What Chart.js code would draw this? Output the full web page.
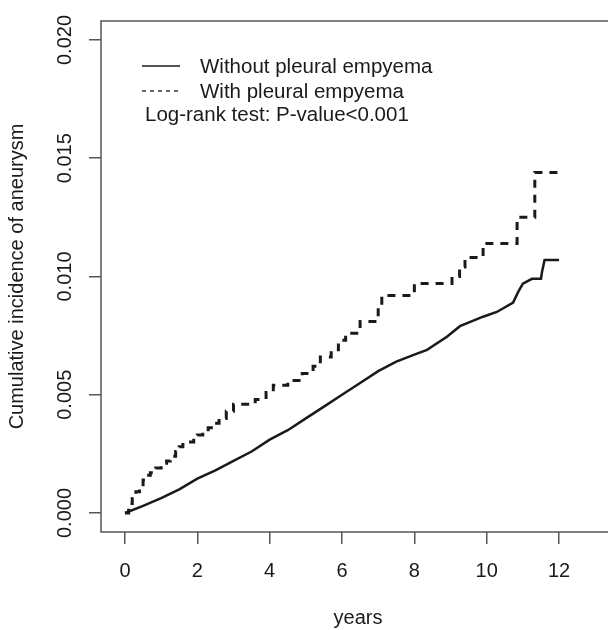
<!DOCTYPE html>
<html>
<head>
<meta charset="utf-8">
<script src="https://cdn.jsdelivr.net/npm/chart.js@4.4.1/dist/chart.umd.min.js"></script>
<style>
  html, body { margin: 0; padding: 0; background: #fff; overflow: hidden; }
</style>
</head>
<body>
<canvas id="km" width="620" height="630"></canvas>
<script>
// cumulative incidence
const withoutYears = [0, 0.5, 1, 1.5, 2, 2.5, 3, 3.5, 4, 4.5, 5, 5.5, 6, 6.5, 7, 7.5, 8, 8.35, 8.9, 9.26, 9.9, 10.28, 10.73, 10.87, 11.0, 11.25, 11.5, 11.53, 11.6, 12];
const withoutIncidence = [0, 0.0003, 0.00063, 0.001, 0.00145, 0.0018, 0.0022, 0.0026, 0.0031, 0.0035, 0.004, 0.0045, 0.005, 0.0055, 0.006, 0.0064, 0.0067, 0.0069, 0.00745, 0.0079, 0.0083, 0.0085, 0.0089, 0.00935, 0.0097, 0.0099, 0.0099, 0.0102, 0.0107, 0.0107];

const withYears = [0, 0.1, 0.2, 0.3, 0.4, 0.5, 0.6, 0.7, 0.85, 1.0, 1.15, 1.25, 1.4, 1.5, 1.6, 1.75, 1.9, 2.0, 2.15, 2.3, 2.45, 2.6, 2.8, 3.0, 3.6, 3.9, 4.1, 4.5, 4.9, 5.2, 5.4, 5.7, 5.9, 6.1, 6.5, 7.0, 7.1, 8.0, 9.04, 9.25, 9.4, 9.9, 10.84, 11.33, 12.0];
const withIncidence = [0, 0.0004, 0.0007, 0.0009, 0.0012, 0.0014, 0.0016, 0.0017, 0.0019, 0.0021, 0.0022, 0.0024, 0.0026, 0.0028, 0.0029, 0.003, 0.0032, 0.0033, 0.0034, 0.0036, 0.0038, 0.004, 0.0043, 0.0046, 0.0048, 0.0051, 0.0054, 0.0056, 0.0059, 0.0062, 0.0066, 0.0069, 0.0073, 0.0076, 0.0081, 0.0087, 0.0092, 0.0097, 0.01, 0.0104, 0.0108, 0.0114, 0.0125, 0.0144, 0.0144];

const xTicks = [0, 2, 4, 6, 8, 10, 12];
const yTicks = [0, 0.005, 0.01, 0.015, 0.02];
const yTickLabels = ["0.000", "0.005", "0.010", "0.015", "0.020"];
const legendLabels = ["Without pleural empyema", "With pleural empyema"];
const testNote = "Log-rank test: P-value<0.001";

const FONT = "'Liberation Sans', Arial, sans-serif";
const INK = "#1a1a1a";
const AXIS = "#555";

const toPoints = (xs, ys) => xs.map((x, i) => ({ x: x, y: ys[i] }));

// box, rotated y labels and the legend (R style)
const rPlot = {
  id: "rPlot",
  afterDraw(chart) {
    const { ctx, chartArea: a, scales } = chart;
    ctx.save();
    ctx.strokeStyle = AXIS;
    ctx.lineWidth = 1.5;
    ctx.strokeRect(a.left, a.top, a.right - a.left, a.bottom - a.top);

    ctx.fillStyle = INK;
    ctx.font = "20px " + FONT;
    ctx.textAlign = "center";
    ctx.textBaseline = "middle";
    yTicks.forEach((v, i) => {
      const y = scales.y.getPixelForValue(v);
      ctx.save();
      ctx.translate(65, y);
      ctx.rotate(-Math.PI / 2);
      ctx.fillText(yTickLabels[i], 0, 0);
      ctx.restore();
    });

    ctx.strokeStyle = INK;
    ctx.lineWidth = 1.3;
    ctx.beginPath();
    ctx.moveTo(142, 66);
    ctx.lineTo(180, 66);
    ctx.stroke();
    ctx.setLineDash([4, 4]);
    ctx.beginPath();
    ctx.moveTo(142, 91);
    ctx.lineTo(180, 91);
    ctx.stroke();
    ctx.setLineDash([]);

    ctx.font = "20.5px " + FONT;
    ctx.textAlign = "left";
    ctx.fillText(legendLabels[0], 200, 67);
    ctx.fillText(legendLabels[1], 200, 92);
    ctx.fillText(testNote, 145, 115);
    ctx.restore();
  }
};

const tickGrid = { drawOnChartArea: false, drawTicks: true, tickLength: 12, color: AXIS, lineWidth: 1.5 };

new Chart(document.getElementById("km"), {
  type: "line",
  data: {
    datasets: [
      {
        label: legendLabels[0],
        data: toPoints(withoutYears, withoutIncidence),
        borderColor: INK,
        borderWidth: 2.5,
        pointRadius: 0,
        tension: 0
      },
      {
        label: legendLabels[1],
        data: toPoints(withYears, withIncidence),
        borderColor: INK,
        borderWidth: 3,
        borderDash: [8, 7],
        pointRadius: 0,
        stepped: true
      }
    ]
  },
  options: {
    responsive: false,
    animation: false,
    layout: { padding: { top: 21, right: 5, left: 0, bottom: 0 } },
    plugins: { legend: { display: false }, tooltip: { enabled: false } },
    scales: {
      x: {
        type: "linear",
        min: -0.6636,
        max: 13.547,
        afterBuildTicks: (s) => { s.ticks = xTicks.map((v) => ({ value: v })); },
        afterFit: (s) => { s.height = 98; },
        grid: tickGrid,
        border: { display: false },
        ticks: { color: INK, font: { family: FONT, size: 20 }, padding: 15, maxRotation: 0, autoSkip: false },
        title: { display: true, text: "years", color: INK, font: { family: FONT, size: 20 }, padding: { top: 0, bottom: 0 } }
      },
      y: {
        type: "linear",
        min: -0.000803,
        max: 0.020803,
        afterBuildTicks: (s) => { s.ticks = yTicks.map((v) => ({ value: v })); },
        afterFit: (s) => { s.width = 101; },
        grid: tickGrid,
        border: { display: false },
        ticks: { color: "rgba(0,0,0,0)", font: { family: FONT, size: 20 } },
        title: { display: true, text: "Cumulative incidence of aneurysm", color: INK, font: { family: FONT, size: 20 }, padding: { top: 5, bottom: 0 } }
      }
    }
  },
  plugins: [rPlot]
});
</script>
</body>
</html>
